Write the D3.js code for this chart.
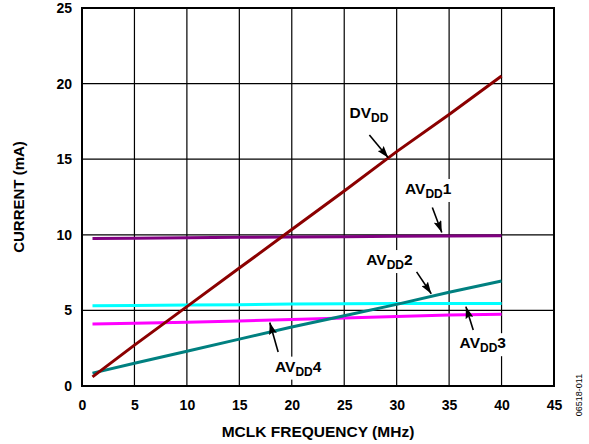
<!DOCTYPE html>
<html>
<head>
<meta charset="utf-8">
<script src="https://cdn.jsdelivr.net/npm/d3@7"></script>
<style>
  body { margin: 0; background: #fff; }
  svg text { font-family: "Liberation Sans", Arial, sans-serif; font-weight: bold; }
</style>
</head>
<body>
<script>
// data (MCLK frequency in MHz, current in mA)
const freq = [1, 5, 10, 15, 20, 25, 30, 35, 40];
const dvdd = [0.6, 2.7, 5.25, 7.8, 10.35, 12.9, 15.5, 17.95, 20.5];
const avdd1 = [9.75, 9.78, 9.8, 9.83, 9.85, 9.87, 9.9, 9.92, 9.93];
const avdd2 = [0.85, 1.5, 2.3, 3.1, 3.9, 4.65, 5.4, 6.2, 6.95];
const avdd3 = [4.1, 4.15, 4.22, 4.3, 4.4, 4.5, 4.6, 4.7, 4.75];
const avdd4 = [5.3, 5.32, 5.35, 5.38, 5.42, 5.44, 5.45, 5.45, 5.45];
const xTicks = [0, 5, 10, 15, 20, 25, 30, 35, 40, 45];
const yTicks = [0, 5, 10, 15, 20, 25];

const series = [
  { name: "AVDD1", values: avdd1, color: "#800080" },
  { name: "AVDD4", values: avdd4, color: "#00ffff" },
  { name: "AVDD3", values: avdd3, color: "#ff00ff" },
  { name: "AVDD2", values: avdd2, color: "#008080" },
  { name: "DVDD", values: dvdd, color: "#8b0000" }
];

// label text, position and arrow (in data units)
const labels = [
  { main: "DV", sub: "DD", tail: "", at: [25.5, 17.7], from: [27.4, 16.6], to: [29.2, 15.1] },
  { main: "AV", sub: "DD", tail: "1", at: [30.8, 12.7], from: [33.4, 11.8], to: [34.3, 10.15] },
  { main: "AV", sub: "DD", tail: "2", at: [27.1, 8.0], from: [31.9, 7.55], to: [33.3, 6.1] },
  { main: "AV", sub: "DD", tail: "3", at: [36.0, 2.5], from: [37.3, 3.7], to: [36.6, 5.25] },
  { main: "AV", sub: "DD", tail: "4", at: [18.4, 0.95], from: [18.7, 2.25], to: [17.9, 4.2] }
];

const width = 589, height = 444;
const marginLeft = 82, marginRight = 35, marginTop = 8, marginBottom = 58;

const x = d3.scaleLinear([0, 45], [marginLeft, width - marginRight]);
const y = d3.scaleLinear([0, 25], [height - marginBottom, marginTop]);

const svg = d3.select("body").append("svg")
  .attr("width", width)
  .attr("height", height)
  .attr("viewBox", [0, 0, width, height]);

// grid
svg.append("g")
  .attr("stroke", "#000")
  .attr("stroke-width", 1.2)
  .call(g => g.selectAll("line.v")
    .data(xTicks.slice(1, -1))
    .join("line")
    .attr("x1", d => x(d)).attr("x2", d => x(d))
    .attr("y1", y(0)).attr("y2", y(25)))
  .call(g => g.selectAll("line.h")
    .data(yTicks.slice(1, -1))
    .join("line")
    .attr("x1", x(0)).attr("x2", x(45))
    .attr("y1", d => y(d)).attr("y2", d => y(d)));

// axes tick labels
svg.append("g")
  .attr("transform", `translate(0,${y(0)})`)
  .call(d3.axisBottom(x).tickValues(xTicks).tickSize(0).tickPadding(14))
  .call(g => g.select(".domain").remove())
  .call(g => g.selectAll("text").attr("font-size", 14).attr("fill", "#000")
    .style("font-family", "Liberation Sans, Arial, sans-serif").style("font-weight", "bold"));

svg.append("g")
  .attr("transform", `translate(${x(0)},0)`)
  .call(d3.axisLeft(y).tickValues(yTicks).tickSize(0).tickPadding(10))
  .call(g => g.select(".domain").remove())
  .call(g => g.selectAll("text").attr("font-size", 14).attr("fill", "#000")
    .style("font-family", "Liberation Sans, Arial, sans-serif").style("font-weight", "bold"));

// label backgrounds and texts (white boxes break the grid like the original)
const labelG = svg.append("g");
labels.forEach(l => {
  const g = labelG.append("g");
  const t = g.append("text")
    .attr("x", x(l.at[0]))
    .attr("y", y(l.at[1]))
    .attr("font-size", 15.5);
  t.append("tspan").text(l.main);
  t.append("tspan").attr("font-size", 12).attr("dy", 4).text(l.sub);
  if (l.tail) t.append("tspan").attr("dy", -4).text(l.tail);
  const b = t.node().getBBox();
  g.insert("rect", "text")
    .attr("x", b.x - 2).attr("y", b.y - 1)
    .attr("width", b.width + 4).attr("height", b.height + 2)
    .attr("fill", "#fff");
});

// data lines
const line = d3.line()
  .x((d, i) => x(freq[i]))
  .y(d => y(d));

svg.append("g")
  .attr("fill", "none")
  .attr("stroke-width", 3)
  .selectAll("path")
  .data(series)
  .join("path")
  .attr("stroke", d => d.color)
  .attr("d", d => line(d.values));

// arrows
svg.append("defs").append("marker")
  .attr("id", "head")
  .attr("viewBox", "0 0 12 8")
  .attr("refX", 12).attr("refY", 4)
  .attr("markerWidth", 12).attr("markerHeight", 8)
  .attr("markerUnits", "userSpaceOnUse")
  .attr("orient", "auto")
  .append("path")
  .attr("d", "M0,0 L12,4 L0,8 L2,4 z")
  .attr("fill", "#000");

svg.append("g")
  .attr("stroke", "#000")
  .attr("stroke-width", 1.6)
  .selectAll("line")
  .data(labels)
  .join("line")
  .attr("x1", d => x(d.from[0])).attr("y1", d => y(d.from[1]))
  .attr("x2", d => x(d.to[0])).attr("y2", d => y(d.to[1]))
  .attr("marker-end", "url(#head)");

// frame
svg.append("rect")
  .attr("x", x(0)).attr("y", y(25))
  .attr("width", x(45) - x(0)).attr("height", y(0) - y(25))
  .attr("fill", "none")
  .attr("stroke", "#000")
  .attr("stroke-width", 2);

// axis titles
svg.append("text")
  .attr("x", (x(0) + x(45)) / 2)
  .attr("y", 437)
  .attr("text-anchor", "middle")
  .attr("font-size", 15.5)
  .text("MCLK FREQUENCY (MHz)");

svg.append("text")
  .attr("transform", `translate(24,${(y(0) + y(25)) / 2}) rotate(-90)`)
  .attr("text-anchor", "middle")
  .attr("font-size", 15)
  .text("CURRENT (mA)");

svg.append("text")
  .attr("transform", "translate(582,395) rotate(-90)")
  .attr("text-anchor", "middle")
  .attr("font-size", 9)
  .style("font-weight", "normal")
  .text("06518-011");
</script>
</body>
</html>
